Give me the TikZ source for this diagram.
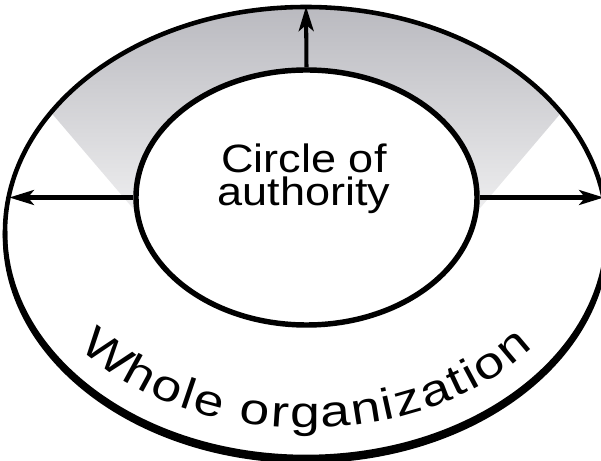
\documentclass[tikz,border=0pt]{standalone}
\usepackage{fontspec}
\setmainfont{Liberation Sans}
\newfontfamily\widesans[FakeStretch=1.22]{Liberation Sans}
\newfontfamily\authsans[FakeStretch=1.14]{Liberation Sans}
\usetikzlibrary{shapes.geometric,arrows.meta,decorations.text}
\definecolor{ringgray}{RGB}{184,184,190}
\newcommand{\wholefont}{\widesans\fontsize{25}{25}\selectfont}

\begin{document}
\begin{tikzpicture}[x=0.2mm,y=0.2mm,
  ring/.style={ellipse,draw,inner sep=0pt},
  outarrow/.style={line width=2.3pt,-{Stealth[length=14pt,width=8.5pt,inset=3.5pt]}}]
\useasboundingbox (0,0) rectangle (601,461);
\begin{scope}
\clip (306,229) ellipse [x radius=301,y radius=225];
\shade[top color=ringgray,bottom color=black!2] (-45,461) -- (177,201) -- (436,201) -- (657,461) -- cycle;
\end{scope}
\begin{scope}
\clip (0,0) rectangle (601,229);
\draw[line width=2.6pt] (306,225) ellipse [x radius=301,y radius=225];
\end{scope}
\node[ring,line width=2.6pt,minimum width=120.4mm,minimum height=90mm] (Outer) at (306,229) {};
\node[ring,line width=3.1pt,fill=white,minimum width=68.2mm,minimum height=51mm] (Inner) at (306.5,263.5) {};
\node[align=center,font=\authsans\fontsize{22.5}{19}\selectfont] (Auth) at (304,282.5) {Circle of\\authority};
\path (Inner.north) edge[outarrow,shorten >=1pt] (Outer.north)
  (Inner.west) edge[outarrow,shorten >=1.5pt] (Inner.west -| Outer.173.5)
  (Inner.east) edge[outarrow,shorten >=1.5pt] (Inner.east -| Outer.6.5);
\path[decorate,decoration={text along path,text align=fit to path,text={|\wholefont|Whole organization}}]
  (306,229) ++(216:280 and 196) arc[start angle=216,end angle=324,x radius=280,y radius=196];
\end{tikzpicture}
\end{document}
